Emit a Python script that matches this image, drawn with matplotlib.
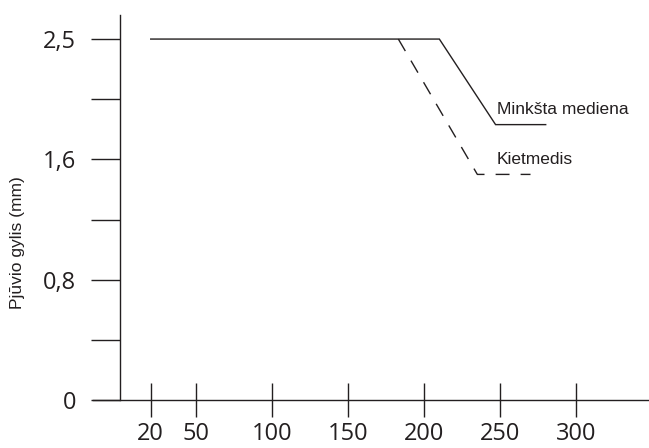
import numpy as np
import matplotlib
matplotlib.use("Agg")
import matplotlib.pyplot as plt

INK = "#231f20"

# speed / feed axis ticks
x_ticks = [20, 50, 100, 150, 200, 250, 300]
y_ticks = [0, 0.8, 1.6, 2.5]
y_tick_labels = ["0", "0,8", "1,6", "2,5"]

# softwood (solid) and hardwood (dashed) cut depth curves
soft_x = [20, 210, 247, 280]
soft_y = [2.5, 2.5, 1.86, 1.86]
hard_x = [183, 235, 270]
hard_y = [2.5, 1.5, 1.5]

# y axis is drawn with evenly spaced labels, so map them piecewise
SCALE_VALS = [-0.8, 0, 0.8, 1.6, 2.5, 3.4]
SCALE_POS = [-1, 0, 1, 2, 3, 4]


def forward(v):
    return np.interp(v, SCALE_VALS, SCALE_POS)


def inverse(p):
    return np.interp(p, SCALE_POS, SCALE_VALS)


fig = plt.figure(figsize=(6.49, 4.48), dpi=100)
ax = fig.add_axes([93 / 649, 48 / 448, 556 / 649, 385 / 448])
ax.set_yscale("function", functions=(forward, inverse))

ax.plot(soft_x, soft_y, color=INK, lw=1.0, solid_joinstyle="miter")
ax.plot(hard_x, hard_y, color=INK, lw=1.0, dashes=(10, 8))

ax.set_xlim(-18, 348)
ax.set_ylim(0, 2.68)

ax.spines["top"].set_visible(False)
ax.spines["right"].set_visible(False)
ax.spines["left"].set_position(("data", 0))
for s in ("left", "bottom"):
    ax.spines[s].set_color(INK)
    ax.spines[s].set_linewidth(1.0)

tick_font = dict(family="Open Sans", size=17)
ax.set_xticks(x_ticks)
ax.set_xticklabels([str(v) for v in x_ticks], fontdict=tick_font, color=INK)
ax.set_yticks(y_ticks)
ax.set_yticklabels(y_tick_labels, fontdict=tick_font, color=INK)
ax.set_yticks([inverse(0.5), inverse(1.5), inverse(2.5)], minor=True)
ax.xaxis.set_minor_locator(matplotlib.ticker.NullLocator())

ax.tick_params(axis="x", direction="inout", length=24, width=1.0, color=INK, pad=4)
ax.tick_params(axis="y", which="both", direction="out", length=21, width=1.0,
               color=INK, pad=11)

label_font = dict(family="Liberation Sans", size=12.5, color=INK)
ax.text(248, 1.94, "Minkšta mediena", **label_font)
ax.text(248, 1.57, "Kietmedis", **label_font)

fig.text(18 / 649, 1 - 243 / 448, "Pjūvio gylis (mm)", rotation=90,
         ha="center", va="center", **label_font)

fig.savefig("out.png", dpi=100)
